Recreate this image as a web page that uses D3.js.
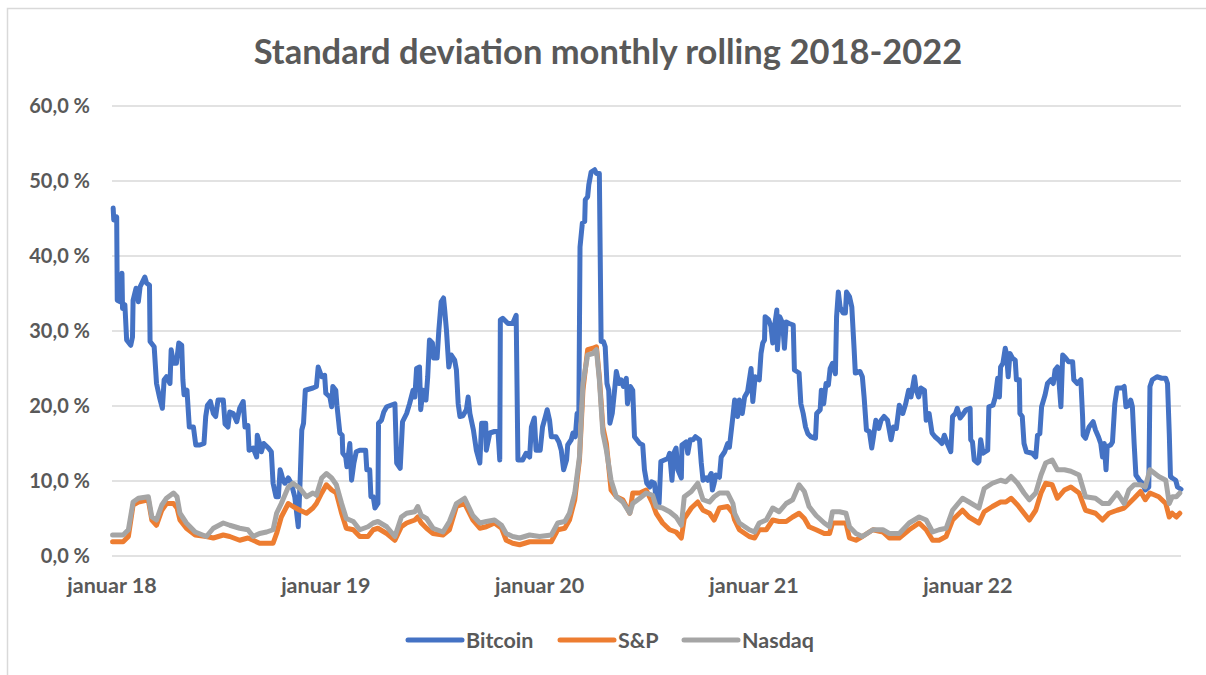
<!DOCTYPE html>
<html>
<head>
<meta charset="utf-8">
<script src="https://cdn.jsdelivr.net/npm/d3@7"></script>
<style>
  body { margin: 0; background: #fff; }
  text { font-family: Lato, "Open Sans", sans-serif; font-weight: bold; fill: #595959; }
</style>
</head>
<body>
<div id="chart"></div>
<script>
// rolling monthly std dev
// each point is [days since 1 Jan 2018, value in %]
const startDate = new Date(2018, 0, 1);

const bitcoin = [
  [2,46.4],[3,44.8],[8,45.2],[9,34.1],[14,33.9],[17,37.7],[18,33],[22,33.5],[25,28.8],[32,28.1],
  [35,29.2],[36,34.1],[41,35.7],[45,33.9],[48,35.9],[56,37.2],[59,36.4],[64,36.1],[65,28.6],[72,27.9],
  [76,23],[81,21.2],[86,19.7],[89,23.5],[93,23.9],[99,23],[101,27.5],[105,25.7],[110,25.7],[114,28.4],
  [119,28.1],[121,23.5],[123,21.5],[128,22.1],[132,17.2],[139,17.2],[143,14.8],[150,14.8],[157,15],[160,18.6],
  [163,20.1],[168,20.6],[173,19],[177,18.6],[181,20.8],[190,20.8],[193,17.6],[198,17.2],[201,19.2],[207,19],
  [213,17.9],[218,19.7],[224,20.6],[227,17.2],[232,17.4],[234,14.1],[241,14.4],[247,13.2],[248,16.1],[252,15],
  [255,13.9],[259,15],[267,14.4],[272,13.9],[275,9.7],[280,7.9],[284,7.9],[287,11.5],[289,11],[292,10.1],
  [295,9.7],[301,10.4],[306,9.7],[312,7.9],[318,3.9],[321,9.7],[324,16.8],[327,17.7],[330,22.1],[343,22.4],
  [349,22.6],[352,25.2],[358,23.9],[363,24.1],[365,21.7],[372,21.2],[375,19.9],[377,22.6],[382,22.1],[384,20.1],
  [389,16.4],[393,16.1],[394,13.7],[399,13.2],[401,11.9],[406,15],[409,10.1],[413,12.4],[417,13.9],[423,14.1],
  [433,14.1],[435,11.5],[440,11.5],[442,7.9],[446,7.9],[449,6.4],[454,7],[455,17.7],[460,18.1],[464,19.2],
  [469,19.9],[483,20.3],[486,12.4],[492,11.7],[496,17.9],[503,19],[508,20.3],[514,22.1],[517,21.2],[520,25],
  [525,25.2],[527,19.5],[531,22.1],[536,20.8],[539,23.9],[542,28.8],[547,28.4],[549,26.4],[555,26.4],[558,30.1],
  [562,33.9],[566,34.4],[568,32.8],[571,30.1],[575,25.2],[579,26.8],[585,26.1],[588,24.8],[591,20.3],[594,18.6],
  [599,18.7],[605,19.5],[608,21.2],[611,19],[617,16.8],[622,14.1],[628,12.4],[631,17.7],[638,17.7],[639,14.1],
  [645,16.4],[653,16.6],[659,16.6],[662,12.8],[663,31.5],[667,31.7],[676,31],[684,31],[690,32.1],[693,12.8],
  [701,12.8],[707,13.7],[713,13.2],[716,17.2],[721,18.4],[724,14.1],[731,14.1],[735,17.2],[740,18.6],[743,19.5],
  [747,18.1],[750,15.9],[758,15.9],[763,15.2],[767,14.1],[771,11.5],[776,12.8],[778,14.8],[784,15.5],[787,16.4],
  [791,15.9],[794,19],[797,19],[799,41.2],[803,44.4],[807,44.6],[808,47.5],[812,47.9],[814,49.5],[818,51.2],
  [824,51.5],[827,51],[832,51],[835,28.6],[839,28.6],[842,27.9],[845,23],[848,22.1],[850,17.7],[854,19],
  [858,22.1],[861,24.6],[863,23.9],[866,23],[869,23.5],[873,22.6],[878,23.7],[880,20.3],[885,22.6],[889,22.1],
  [892,15.9],[896,15.5],[901,15],[906,14.8],[909,11.5],[913,9.7],[918,9.2],[921,9.9],[926,9.7],[929,7.5],
  [934,7],[937,12.6],[943,12.8],[949,13],[952,13.7],[956,10.1],[959,13.7],[963,14.4],[966,11.5],[972,10.4],
  [973,14.8],[980,15.2],[983,13.7],[987,15.5],[992,15.5],[996,15.9],[1003,15.5],[1006,12.4],[1009,10.1],[1014,10.4],
  [1017,10.1],[1023,11],[1025,8.8],[1028,9.7],[1031,10.8],[1037,10.5],[1040,13.2],[1046,13.9],[1051,15],[1054,14.5],
  [1060,18.6],[1063,20.8],[1068,18.6],[1071,20.8],[1076,19],[1080,21.2],[1085,21.9],[1091,25],[1094,20.6],[1098,23.9],
  [1105,23.5],[1108,27],[1111,28.4],[1114,28.8],[1115,31.9],[1121,31.5],[1125,30.6],[1128,28.4],[1131,30.6],[1135,32.8],
  [1136,27.5],[1140,31.9],[1145,31],[1148,27.7],[1151,31.2],[1156,31],[1163,30.8],[1165,24.8],[1173,24.4],[1176,20.3],
  [1180,19],[1184,17.2],[1188,16.3],[1193,15.9],[1201,15.7],[1203,19],[1209,19.5],[1211,22.1],[1215,20.3],[1219,23],
  [1223,22.8],[1226,25],[1230,25.7],[1235,24.3],[1237,31.9],[1240,35.2],[1243,33.2],[1248,32.4],[1252,32.4],[1254,35.2],
  [1259,34.6],[1263,33.2],[1267,27.5],[1269,24.4],[1277,24.6],[1281,23.9],[1284,21.2],[1288,16.8],[1293,16.6],[1297,14.4],
  [1300,15.9],[1304,18.1],[1309,17],[1313,18.1],[1318,18.6],[1324,18.1],[1330,15.5],[1334,17.2],[1339,17],[1344,20.1],
  [1350,19],[1355,20.3],[1360,22.1],[1364,21.2],[1370,23.9],[1373,22.1],[1377,21.2],[1381,22.4],[1387,22.1],[1390,18.1],
  [1395,19],[1400,16.4],[1405,15.9],[1411,15.5],[1417,15],[1421,16.1],[1426,15],[1432,13.9],[1435,18.6],[1440,19],
  [1443,19.7],[1448,18.4],[1452,18.8],[1458,19.5],[1465,19.7],[1466,15.5],[1469,15.2],[1472,12.8],[1478,12.4],[1480,12.6],
  [1483,15.5],[1487,13.7],[1495,14.1],[1497,19.9],[1504,20.1],[1508,21.2],[1512,23.7],[1515,21.2],[1517,25.2],[1521,25.7],
  [1525,27.7],[1527,27],[1530,23.9],[1533,27],[1537,26.4],[1542,26.1],[1544,23.5],[1549,23.5],[1550,19],[1554,18.6],
  [1557,15],[1561,13.9],[1571,13.7],[1577,13.2],[1580,16.1],[1584,16.3],[1587,19.9],[1593,21.5],[1597,23],[1603,23.5],
  [1607,23],[1610,24.8],[1614,25.2],[1617,23],[1620,19.9],[1623,26.8],[1628,26.4],[1633,25.9],[1640,25.9],[1642,23.5],
  [1648,23],[1654,23.5],[1657,18.6],[1658,16.1],[1662,15.7],[1668,17.2],[1675,17.9],[1679,16.8],[1684,15.9],[1688,15],
  [1691,13.2],[1694,15],[1697,11.5],[1699,14.6],[1705,14.8],[1708,15.2],[1712,20.3],[1716,22.4],[1724,22.4],[1728,22.6],
  [1731,19.9],[1736,20.1],[1739,20.8],[1742,19.9],[1745,15],[1748,10.8],[1754,10.1],[1759,9.7],[1764,8.8],[1770,9.2],
  [1772,22.6],[1776,23.5],[1784,23.9],[1792,23.7],[1799,23.7],[1802,23],[1805,16.3],[1807,10.6],[1810,10.4],[1816,10.1],
  [1819,9.2],[1825,8.9]
];

const sp500 = [
  [1,1.9],[19,1.9],[28,2.6],[36,6.8],[45,7.2],[62,7.5],[68,4.8],[76,4.1],[85,6.1],[93,7],
  [105,7],[111,6.4],[116,4.8],[127,3.7],[142,2.8],[161,2.6],[173,2.4],[190,2.8],[201,2.6],[218,2.1],
  [232,2.4],[241,2.1],[252,1.7],[264,1.7],[275,1.7],[281,3],[289,5.2],[301,7],[309,6.6],[321,6.1],
  [332,5.7],[343,6.4],[349,7],[358,8.4],[366,9.5],[375,8.8],[383,8.4],[392,5.7],[400,3.7],[412,3.5],
  [423,2.6],[437,2.6],[446,3.5],[454,3.7],[469,3],[483,2.1],[494,3.9],[503,4.4],[517,4.8],[522,5.2],
  [528,4.4],[537,3.7],[548,3],[565,2.8],[576,3.5],[588,6.6],[602,7],[616,4.8],[628,3.7],[639,3.9],
  [653,4.4],[665,3.7],[673,2.1],[684,1.7],[696,1.5],[713,1.9],[730,1.9],[750,1.9],[761,3.5],[773,3.7],
  [781,4.8],[790,7.5],[798,12.8],[804,22.1],[812,27.5],[821,27.7],[827,27.9],[832,23.9],[838,17.2],[844,15],
  [852,8.8],[861,7.9],[872,7.5],[884,5.7],[889,8.4],[901,8.4],[912,8.8],[923,7],[929,5.7],[940,4.4],
  [952,3.5],[963,3.2],[972,2.4],[977,5],[989,6.4],[1000,7.2],[1009,6.1],[1020,5.7],[1028,4.8],[1037,6.4],
  [1051,6.6],[1060,5.7],[1063,4.8],[1071,3.5],[1088,2.6],[1097,2.4],[1105,3.5],[1117,3.5],[1128,4.8],[1139,4.6],
  [1151,4.6],[1162,5.2],[1173,5.7],[1182,5],[1190,3.9],[1202,3.5],[1216,3],[1225,3],[1230,4.4],[1242,4.4],
  [1253,4.4],[1259,2.4],[1270,2.1],[1281,2.6],[1299,3.5],[1316,3.2],[1327,2.4],[1344,2.4],[1361,3.5],[1378,4.4],
  [1390,3.5],[1401,2.1],[1412,2.1],[1424,2.6],[1435,4.8],[1452,6.1],[1463,5.2],[1480,4.4],[1489,5.9],[1503,6.6],
  [1517,7.2],[1526,7.2],[1535,7.7],[1546,6.8],[1557,5.7],[1566,4.8],[1577,6.1],[1586,8.4],[1594,9.7],[1605,9.5],
  [1614,7.7],[1626,8.8],[1637,9.2],[1651,8.4],[1662,6.1],[1679,5.7],[1691,4.8],[1702,5.7],[1716,6.1],[1728,6.4],
  [1736,7],[1745,7.7],[1756,8.6],[1764,7.5],[1772,8.4],[1787,7.9],[1799,7],[1805,5.2],[1810,5.7],[1817,5.2],
  [1823,5.7]
];

const nasdaq = [
  [1,2.8],[19,2.8],[28,3.5],[36,7.2],[45,7.7],[62,7.9],[68,5.2],[76,4.8],[85,6.8],[93,7.7],
  [105,8.4],[111,7.9],[116,5.7],[127,4.4],[142,3.2],[161,2.6],[173,3.7],[190,4.4],[201,4.1],[218,3.7],
  [232,3.5],[241,2.6],[252,3],[264,3.2],[275,3.5],[281,5.7],[289,7],[301,9.2],[309,9.7],[321,9],
  [332,7.9],[343,8.4],[349,8.1],[358,10.4],[366,11],[375,10.4],[383,9.5],[392,7],[400,5],[412,4.6],
  [423,3.5],[437,3.9],[446,4.4],[454,4.6],[469,3.9],[483,2.6],[494,5.2],[503,5.7],[517,5.9],[522,6.6],
  [528,5.4],[537,5],[548,3.7],[565,3.2],[576,4.6],[588,7],[602,7.7],[616,5.4],[628,4.4],[639,4.6],
  [653,4.8],[665,4.1],[673,3],[684,2.6],[696,2.4],[713,2.8],[730,2.6],[750,2.8],[761,4.4],[773,4.6],
  [781,5.7],[790,8.4],[798,13.2],[804,23],[812,26.8],[821,27],[827,27.5],[832,23.5],[838,16.4],[844,14.1],
  [852,10.1],[861,7.9],[872,7.2],[884,5.7],[889,7],[901,7.7],[912,8.4],[923,8.1],[929,6.6],[940,6.4],
  [952,5.9],[963,5.2],[972,4.1],[977,7.9],[989,8.6],[1000,9.7],[1009,7.5],[1020,7.2],[1028,7.9],[1037,8.4],
  [1051,8.4],[1060,7],[1063,5.7],[1071,4.4],[1088,3.5],[1097,3.2],[1105,4.4],[1117,4.8],[1128,6.4],[1139,5.9],
  [1151,7],[1162,7.5],[1173,9.5],[1182,8.6],[1190,6.6],[1202,5.4],[1216,4.4],[1225,3.9],[1230,5.9],[1242,5.9],
  [1253,5.7],[1259,3.9],[1270,3],[1281,2.6],[1299,3.5],[1316,3.5],[1327,3],[1344,3],[1361,4.4],[1378,5.2],
  [1390,4.8],[1401,3.2],[1412,3.5],[1424,3.7],[1435,6.1],[1452,7.7],[1463,7.2],[1480,6.4],[1489,9],[1503,9.7],
  [1517,10.1],[1526,9.9],[1535,10.6],[1546,9.7],[1557,8.4],[1566,7.5],[1577,8.4],[1586,10.8],[1594,12.4],[1605,12.8],
  [1614,11.5],[1626,11.5],[1637,11.3],[1651,10.8],[1662,7.9],[1679,7.7],[1691,7],[1702,7],[1716,8.4],[1728,7],
  [1736,8.8],[1745,9.5],[1756,9.5],[1764,9.2],[1772,11.5],[1787,10.6],[1799,10.1],[1805,7],[1810,7.9],[1817,7.9],
  [1823,8.4]
];

const seriesNames = ["Bitcoin", "S&P", "Nasdaq"];
const seriesColors = ["#4472C4", "#ED7D31", "#A5A5A5"];
const yTicks = [0, 10, 20, 30, 40, 50, 60];
const xTickYears = [2018, 2019, 2020, 2021, 2022];

const width = 1206, height = 675;
const margin = {left: 112, right: 25, top: 106, bottom: 119};

const svg = d3.select("#chart").append("svg")
    .attr("width", width)
    .attr("height", height);

// chart area frame (cut off on right/bottom like the screenshot)
svg.append("rect")
    .attr("x", 7.5).attr("y", 8.5)
    .attr("width", width + 20).attr("height", height + 20)
    .attr("fill", "none")
    .attr("stroke", "#D9D9D9")
    .attr("stroke-width", 1.5);

const x = d3.scaleTime()
    .domain([startDate, new Date(2022, 11, 31)])
    .range([margin.left, width - margin.right]);

const y = d3.scaleLinear()
    .domain([0, 60])
    .range([height - margin.bottom, margin.top]);

const toDate = d => d3.timeDay.offset(startDate, d);
const pctFmt = v => d3.format(".1f")(v).replace(".", ",") + " %";

// gridlines
svg.append("g").selectAll("line")
  .data(yTicks)
  .join("line")
    .attr("x1", margin.left).attr("x2", width - margin.right)
    .attr("y1", d => y(d)).attr("y2", d => y(d))
    .attr("stroke", "#D9D9D9")
    .attr("stroke-width", 1.5);

// y labels
svg.append("g").selectAll("text")
  .data(yTicks)
  .join("text")
    .attr("x", 90)
    .attr("y", d => y(d))
    .attr("dy", "0.35em")
    .attr("text-anchor", "end")
    .style("font-size", "20px")
    .text(pctFmt);

// x labels
svg.append("g").selectAll("text")
  .data(xTickYears)
  .join("text")
    .attr("x", d => x(new Date(d, 0, 1)))
    .attr("y", 585)
    .attr("dy", "0.35em")
    .attr("text-anchor", "middle")
    .style("font-size", "21.5px")
    .text(d => "januar " + String(d).slice(2));

const line = d3.line()
    .x(d => x(toDate(d[0])))
    .y(d => y(d[1]));

[bitcoin, sp500, nasdaq].forEach((s, i) => {
  svg.append("path")
      .datum(s)
      .attr("fill", "none")
      .attr("stroke", seriesColors[i])
      .attr("stroke-width", 5)
      .attr("stroke-linejoin", "round")
      .attr("stroke-linecap", "round")
      .attr("d", line);
});

// title
svg.append("text")
    .attr("x", 608)
    .attr("y", 52)
    .attr("dy", "0.35em")
    .attr("text-anchor", "middle")
    .style("font-size", "34.5px")
    .text("Standard deviation monthly rolling 2018-2022");

// legend
const legendX = [408, 560, 684];
const lg = svg.append("g").selectAll("g")
  .data(seriesNames)
  .join("g")
    .attr("transform", (d, i) => `translate(${legendX[i]},640)`);
lg.append("line")
    .attr("x1", 0).attr("x2", 54)
    .attr("stroke", (d, i) => seriesColors[i])
    .attr("stroke-width", 5)
    .attr("stroke-linecap", "round");
lg.append("text")
    .attr("x", 58)
    .attr("dy", "0.35em")
    .style("font-size", "21.5px")
    .text(d => d);
</script>
</body>
</html>
